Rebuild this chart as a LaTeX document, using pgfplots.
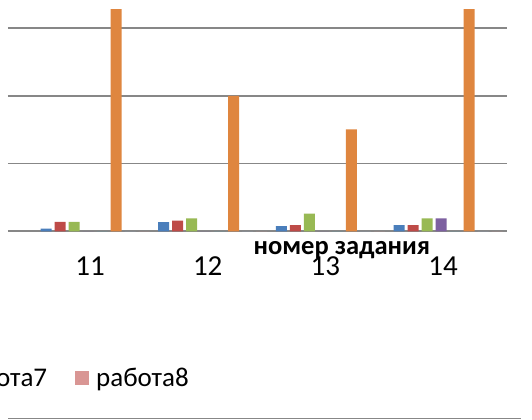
\documentclass[border=0pt]{standalone}
\usepackage{fontspec}
\setmainfont{Carlito}
\usepackage{pgfplots}
\pgfplotsset{compat=1.18}
\definecolor{sBlue}{HTML}{4A7EBB}
\definecolor{sRed}{HTML}{BE4B48}
\definecolor{sGreen}{HTML}{98B954}
\definecolor{sPurple}{HTML}{7D60A0}
\definecolor{sAqua}{HTML}{46AAC5}
\definecolor{sOrange}{HTML}{DF863F}
\definecolor{sSeven}{HTML}{95B3D7}
\definecolor{sEight}{HTML}{D99694}
\definecolor{gridgray}{HTML}{878787}
\begin{document}
\begin{tikzpicture}
\useasboundingbox (0,0) rectangle (532bp,420bp);
\begin{axis}[
  at={(8bp,188.7bp)}, anchor=south west,
  scale only axis, width=499bp, height=221.3bp,
  xmin=10.303, xmax=14.543, ymin=0, ymax=32.7,
  axis line style={draw=none},
  major tick length=0pt,
  ytick={0,10,20,30}, yticklabels={},
  ymajorgrids, grid style={color=gridgray, line width=1.6bp},
  xtick={11,12,13,14},
  /pgf/number format/assume math mode=true,
  xticklabel style={font=\fontsize{29bp}{34bp}\selectfont, anchor=base, yshift=-44.5bp},
  xlabel={\textbf{номер задания}},
  xlabel style={at={(rel axis cs:0.669,0)}, anchor=base, yshift=-22.7bp, inner sep=0pt,
     font=\fontsize{26.5bp}{31bp}\selectfont},
  legend columns=2,
  legend style={draw=none, fill=none, at={(0.3627,-0.662)}, anchor=east,
     inner sep=0pt, font=\fontsize{27bp}{32bp}\selectfont,
     nodes={inner sep=0pt},
     /tikz/every odd column/.append style={column sep=7bp},
     /tikz/every even column/.append style={column sep=28bp}},
  legend image code/.code={\fill[#1] (0bp,-7bp) rectangle (14bp,7bp);},
  bar width=0.0935,
]
\addplot[ybar, bar shift=-0.374, fill=sBlue, draw=none, forget plot] coordinates {(11,0.38) (12,1.37) (13,0.78) (14,0.93)};
\addplot[ybar, bar shift=-0.255, fill=sRed, draw=none, forget plot] coordinates {(11,1.40) (12,1.57) (13,0.93) (14,0.93)};
\addplot[ybar, bar shift=-0.136, fill=sGreen, draw=none, forget plot] coordinates {(11,1.40) (12,1.92) (13,2.60) (14,1.92)};
\addplot[ybar, bar shift=-0.017, fill=sPurple, draw=none, forget plot] coordinates {(11,0) (12,0) (13,0) (14,1.92)};
\addplot[ybar, bar shift=0.102, fill=sAqua, draw=none, forget plot] coordinates {(11,0) (12,0) (13,0) (14,0)};
\addplot[ybar, bar shift=0.221, fill=sOrange, draw=none, forget plot] coordinates {(11,35) (12,20) (13,15.07) (14,35)};
\addplot[ybar, bar shift=0.340, fill=sSeven, draw=none] coordinates {(11,0) (12,0) (13,0) (14,0)};
\addplot[ybar, bar shift=0.459, fill=sEight, draw=none] coordinates {(11,0) (12,0) (13,0) (14,0)};
\legend{работа7, работа8}
\end{axis}
\draw[gridgray, line width=1.6bp] (8bp,1.5bp) -- (521bp,1.5bp);
\end{tikzpicture}
\end{document}
